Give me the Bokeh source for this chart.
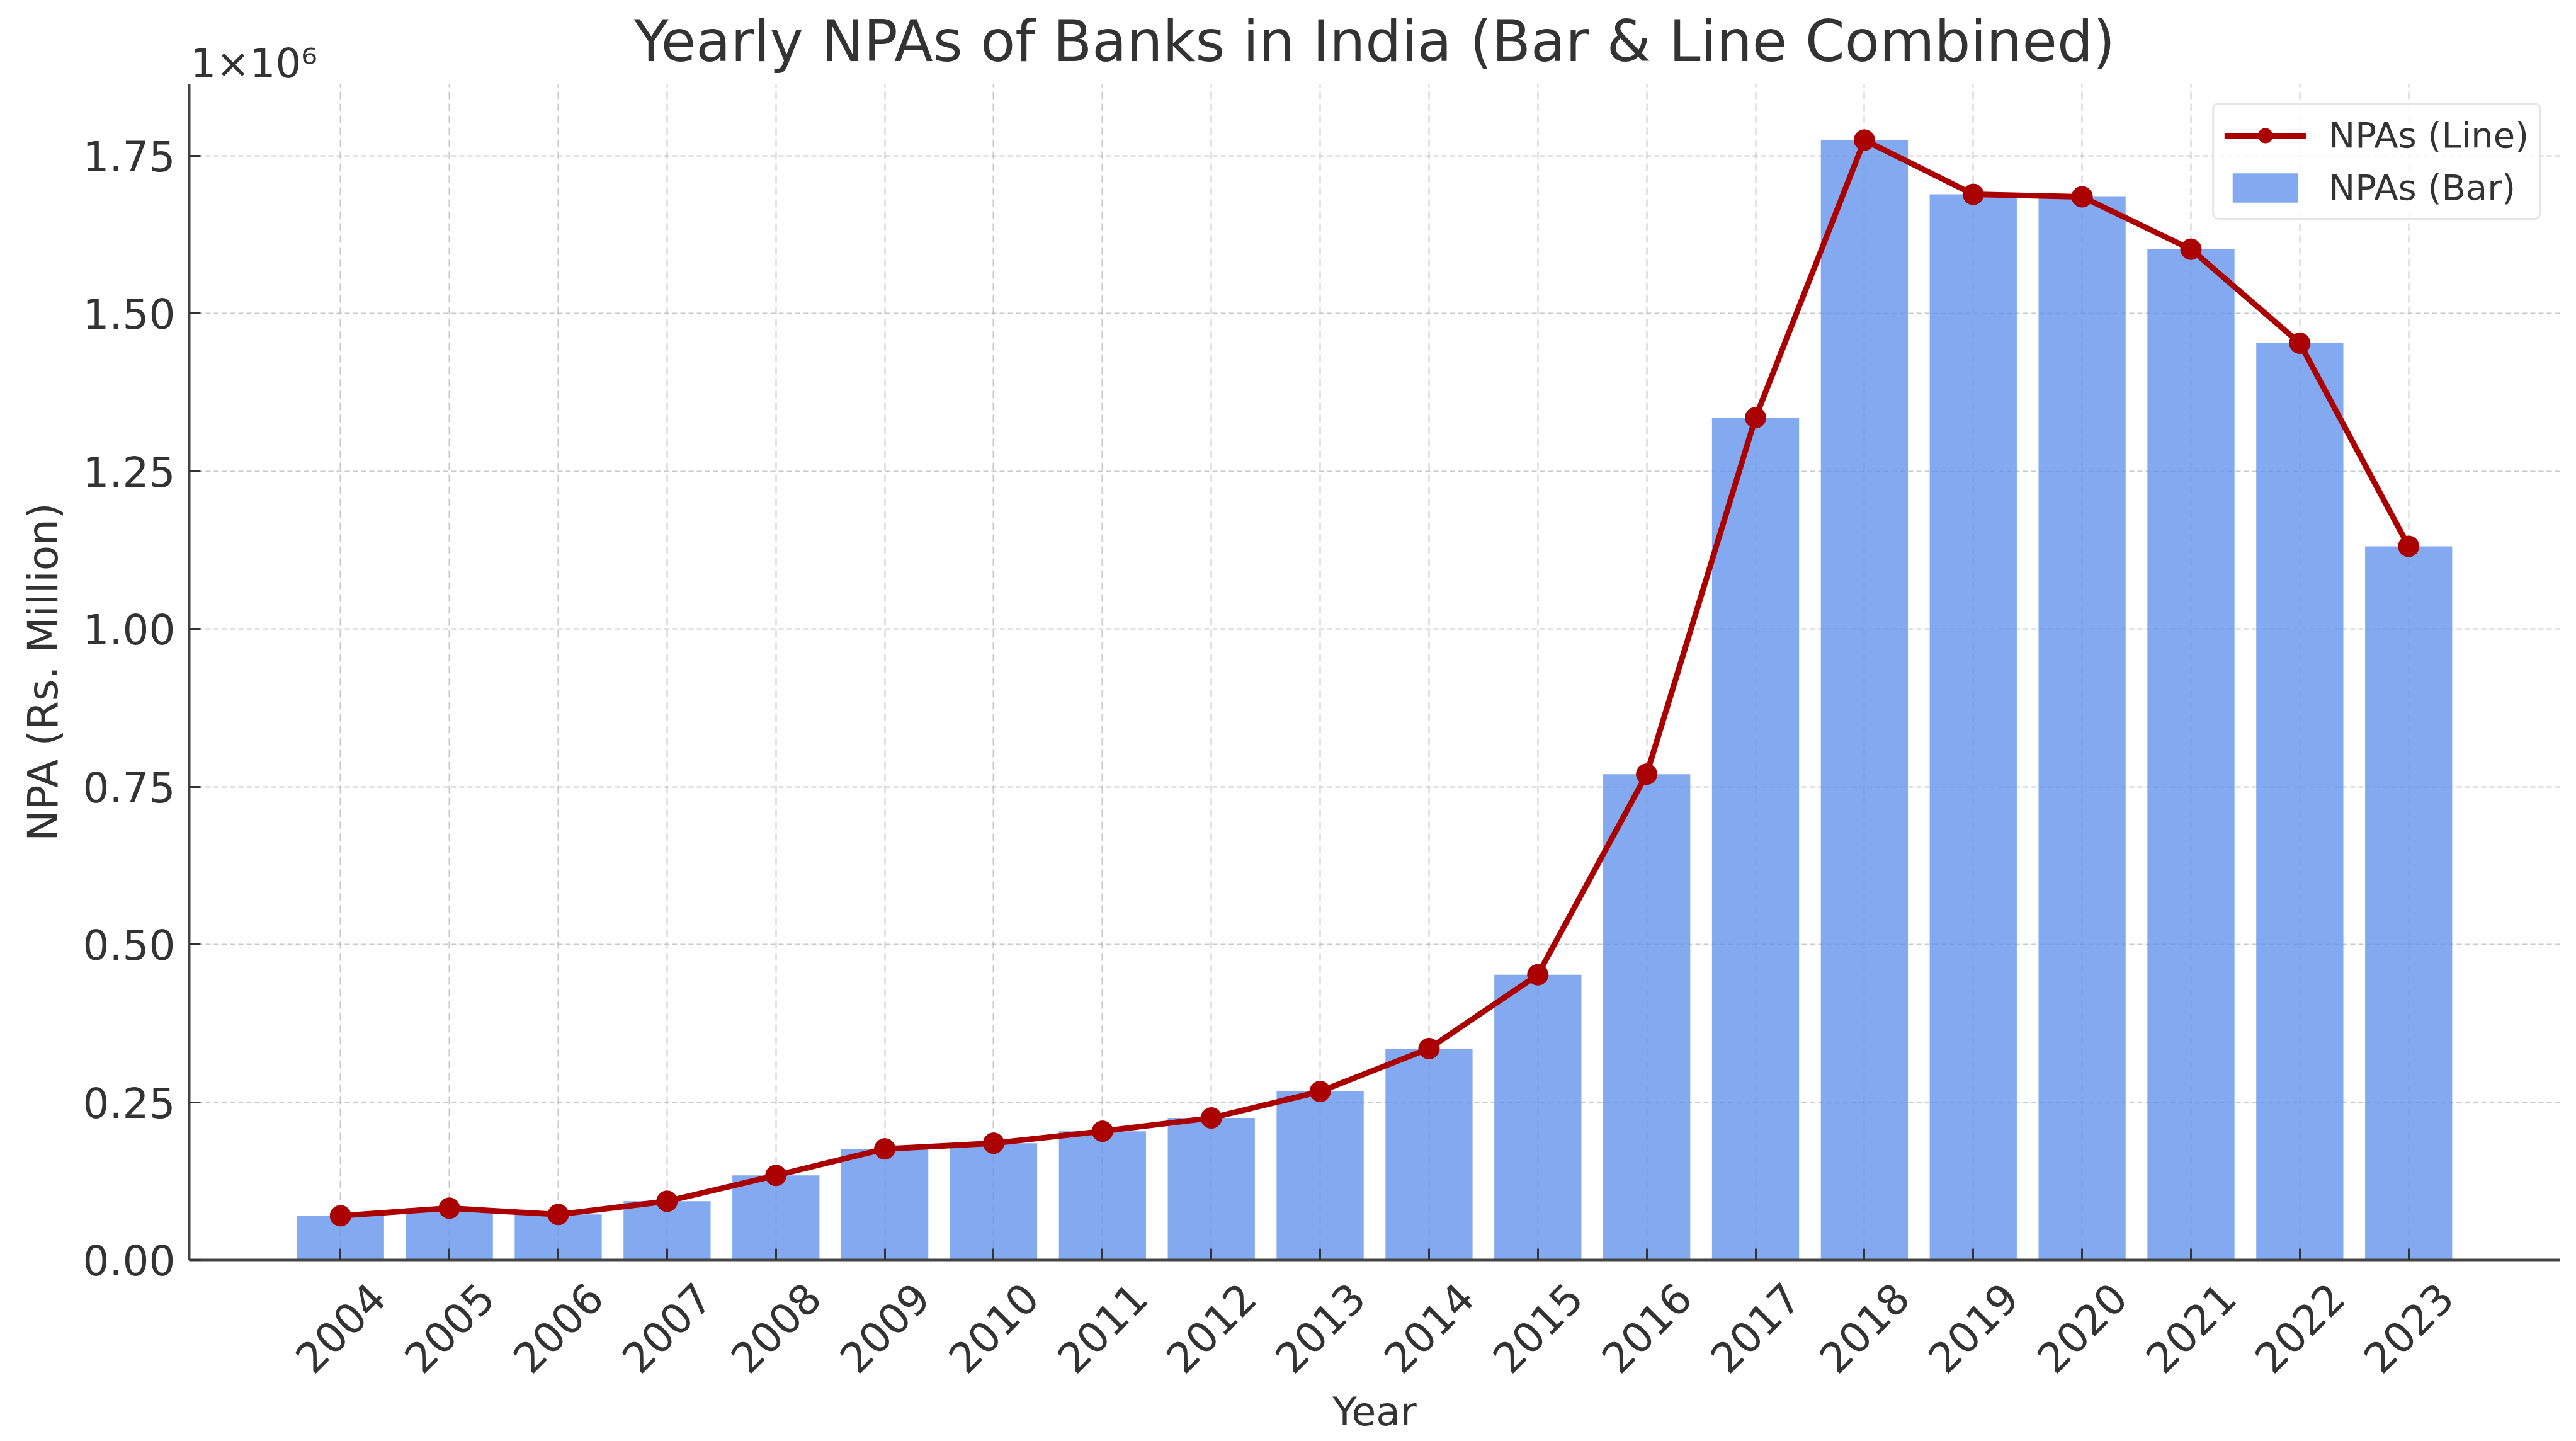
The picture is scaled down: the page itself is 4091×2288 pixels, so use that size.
import math
from bokeh.plotting import figure
from bokeh.models import (Range1d, FixedTicker, LinearAxis, Legend, LegendItem, Title)
from bokeh.embed import file_html
from bokeh.resources import INLINE

# ---- data ----
years = [2004, 2005, 2006, 2007, 2008, 2009, 2010, 2011, 2012, 2013,
         2014, 2015, 2016, 2017, 2018, 2019, 2020, 2021, 2022, 2023]
npas = [70000, 82000, 72000, 93000, 134000, 176000, 185000, 204000, 225000, 267000,
        335000, 452000, 770000, 1335000, 1775000, 1689000, 1685000, 1602000, 1453000, 1131000]
y_ticks = [0, 250000, 500000, 750000, 1000000, 1250000, 1500000, 1750000]
y_tick_labels = ["0.00", "0.25", "0.50", "0.75", "1.00", "1.25", "1.50", "1.75"]

TEXT = "#333333"
FONT = "DejaVu Sans"

x0 = years[0] - 1.39
x1 = years[-1] + 1.39
ymax = max(npas) * 1.05

p = figure(width=4091, height=2288, output_backend="svg", toolbar_location=None,
           x_range=Range1d(x0, x1), y_range=Range1d(0, ymax),
           min_border_left=300, min_border_right=26, min_border_top=133, min_border_bottom=288)
p.outline_line_color = None
p.background_fill_color = "white"
p.border_fill_color = "white"

# main title (outer panel, pulled down next to the scale-factor text)
p.title.text = "Yearly NPAs of Banks in India (Bar & Line Combined)"
p.title.text_font = FONT
p.title.text_font_size = "90px"
p.title.text_font_style = "normal"
p.title.text_color = TEXT
p.title.align = "center"
p.title.standoff = -104

# scale-factor text of the y axis (inner panel, left aligned over the frame)
scale_txt = Title(text="1×10⁶", text_font=FONT, text_font_size="64px",
                  text_font_style="normal", text_color=TEXT, align="left",
                  offset=2, standoff=-8)
p.add_layout(scale_txt, "above")

# glyphs
bars = p.vbar(x=years, top=npas, width=0.8, fill_color="cornflowerblue", fill_alpha=0.8,
              line_color=None)
line = p.line(x=years, y=npas, line_color="#AA0000", line_width=9)
pts = p.scatter(x=years, y=npas, size=33, fill_color="#AA0000", line_color="#AA0000")

# y axis
yax = p.yaxis[0]
yax.ticker = FixedTicker(ticks=y_ticks)
yax.major_label_overrides = {t: s for t, s in zip(y_ticks, y_tick_labels)}
yax.major_label_text_font = FONT
yax.major_label_text_font_size = "66px"
yax.major_label_text_color = TEXT
yax.major_label_standoff = 22
yax.major_tick_in = 18
yax.major_tick_out = 0
yax.major_tick_line_width = 3
yax.major_tick_line_color = TEXT
yax.minor_tick_line_color = None
yax.axis_line_width = 4
yax.axis_line_color = "#444444"
yax.axis_label = "NPA (Rs. Million)"
yax.axis_label_text_font = FONT
yax.axis_label_text_font_size = "66px"
yax.axis_label_text_font_style = "normal"
yax.axis_label_text_color = TEXT
yax.axis_label_standoff = 22

# x axis: tick marks + axis line only
xax = p.xaxis[0]
xax.ticker = FixedTicker(ticks=years)
xax.major_label_text_font_size = "0px"
xax.major_label_text_color = None
xax.major_label_standoff = 0
xax.major_tick_in = 18
xax.major_tick_out = 0
xax.major_tick_line_width = 3
xax.major_tick_line_color = TEXT
xax.minor_tick_line_color = None
xax.axis_line_width = 4
xax.axis_line_color = "#444444"

# x axis labels (rotated, centred under each bar)
shift = 0.34
p.extra_x_ranges = {"lab": Range1d(x0 - shift, x1 - shift)}
lab = LinearAxis(x_range_name="lab", ticker=FixedTicker(ticks=years))
lab.axis_line_color = None
lab.major_tick_line_color = None
lab.minor_tick_line_color = None
lab.major_label_orientation = math.pi / 4
lab.major_label_standoff = 42
lab.major_label_text_font = FONT
lab.major_label_text_font_size = "66px"
lab.major_label_text_color = TEXT
lab.axis_label = "Year"
lab.axis_label_text_font = FONT
lab.axis_label_text_font_size = "63px"
lab.axis_label_text_font_style = "normal"
lab.axis_label_text_color = TEXT
lab.axis_label_standoff = 0
p.add_layout(lab, "below")

# grids
p.xgrid.ticker = FixedTicker(ticks=years)
p.xgrid.grid_line_color = "#b0b0b0"
p.xgrid.grid_line_alpha = 0.7
p.xgrid.grid_line_width = 2
p.xgrid.grid_line_dash = "12 7"
p.ygrid.ticker = FixedTicker(ticks=y_ticks)
p.ygrid.grid_line_color = "#b0b0b0"
p.ygrid.grid_line_alpha = 0.7
p.ygrid.grid_line_width = 2
p.ygrid.grid_line_dash = "8 5"

# legend
legend = Legend(items=[LegendItem(label="NPAs (Line)", renderers=[line, pts]),
                       LegendItem(label="NPAs (Bar)", renderers=[bars])],
                location="top_right")
legend.margin = 30
legend.padding = 16
legend.spacing = 18
legend.glyph_width = 130
legend.glyph_height = 58
legend.label_standoff = 36
legend.label_text_font = FONT
legend.label_text_font_size = "56px"
legend.label_text_color = TEXT
legend.border_line_color = "#cccccc"
legend.border_line_width = 3
legend.border_radius = 10
legend.background_fill_color = "white"
legend.background_fill_alpha = 0.8
p.add_layout(legend)

open("out.html", "w").write(file_html(p, INLINE))
